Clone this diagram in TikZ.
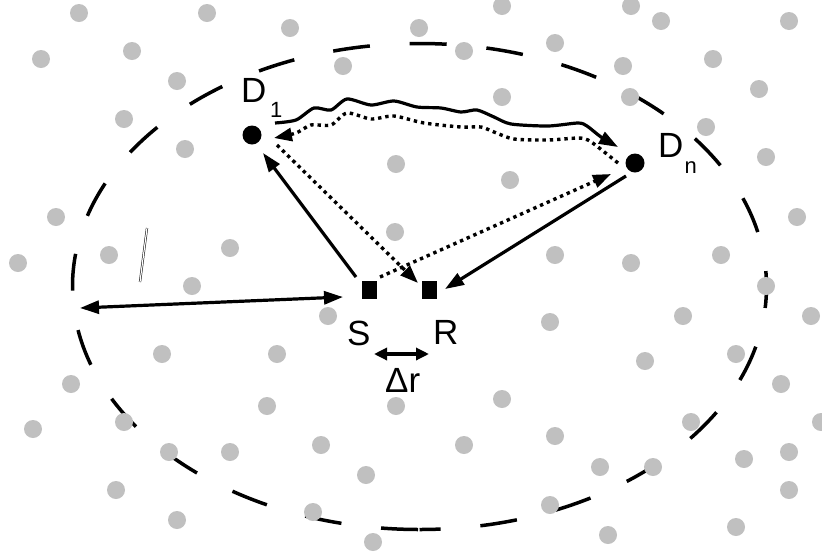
\documentclass[tikz,border=0pt]{standalone}
\usepackage{fontspec}
\setmainfont{Liberation Sans}
\usetikzlibrary{arrows.meta}
\definecolor{dotgray}{RGB}{192,192,192}
\tikzset{
  gdot/.style={circle, fill=dotgray, inner sep=0pt, minimum size=18pt},
  dnode/.style={circle, fill=black, inner sep=0pt, minimum size=19pt},
  snode/.style={rectangle, fill=black, inner sep=0pt, minimum width=15pt, minimum height=18pt},
  lbl/.style={inner sep=0pt, anchor=base west, font=\fontsize{35}{40}\selectfont},
  sublbl/.style={inner sep=0pt, anchor=base west, font=\fontsize{22}{26}\selectfont},
  ell/.style={line width=3.5pt, dash pattern=on 37pt off 39.9pt, dash phase=75.4pt},
  solidarrow/.style={line width=3.2pt, -{Triangle[length=19pt,width=13pt]}},
  twoarrow/.style={line width=3.2pt, {Triangle[length=19pt,width=13pt]}-{Triangle[length=19pt,width=13pt]}},
  smallarrow/.style={line width=3.2pt, {Triangle[length=13pt,width=12pt]}-{Triangle[length=13pt,width=12pt]}},
  dotarrow/.style={line width=3.4pt, dash pattern=on 3.4pt off 3.9pt, -{Triangle[length=18pt,width=13pt]}},
}
\begin{document}
\begin{tikzpicture}[x=1pt,y=-1pt]
\useasboundingbox (0,0) rectangle (822,558);
\fill[white] (0,0) rectangle (822,558);
% dashed ellipse, starting at its lowest point
\coordinate (ebot) at (419.5,529.5);
\draw[ell] (ebot) arc[start angle=90, end angle=450, x radius=347, y radius=243];
% gray dots
\foreach \p [count=\i] in {(79,13),(207,13),(41,59),(132,51),(177,81),(124,119),(185,149),(56,217),(18,263),(109,255),(230,248),(192,286),
(290,28),(419,28),(502,6),(464,51),(343,66),(502,97),(396,164),(510,180),(395,232),(555,43),(555,255),
(631,6),(661,21),(789,21),(623,66),(713,59),(759,89),(630,97),(706,127),(766,157),(797,217),(631,263),(721,255),(766,286),
(162,354),(277,354),(71,384),(267,406),(33,429),(124,422),(169,452),(230,452),(116,490),(177,520),
(328,316),(396,406),(502,399),(550,322),(321,445),(464,445),(366,475),(313,512),(373,542),(550,505),
(683,316),(811,316),(645,361),(736,354),(781,384),(821,422),(691,422),(555,436),(600,467),(653,467),(744,459),(789,452),(789,490),(608,535),(736,527)}
  \node[gdot] (g\i) at \p {};
% thin double stroke
\draw[double=white, line width=0.5pt, double distance=1.2pt] (140,282) -- (147,228);
% main nodes
\node[dnode] (D1) at (252,135) {};
\node[dnode] (Dn) at (635,163) {};
\node[snode] (S) at (369.5,290) {};
\node[snode] (R) at (429,290) {};
% labels
\node[lbl] (D1lab) at (241,102) {D};
\node[sublbl] (D1sub) at (270,117) {1};
\node[lbl] (Dnlab) at (658,157) {D};
\node[sublbl] (Dnsub) at (684.5,173) {n};
\node[lbl] (Slab) at (347,345) {S};
\node[lbl] (Rlab) at (433,344) {R};
\node[lbl] (drlab) at (385,392) {Δr};
% left free end
\coordinate (L) at (80,308);
% connectors
\draw[twoarrow] (L) -- ([shift={(-26.5,7)}]S.center);
\draw[solidarrow] ([shift={(-13.5,-13)}]S.center) -- ([shift={(11,18)}]D1.center);
\draw[solidarrow] ([shift={(-9,13)}]Dn.center) -- ([shift={(16,-1)}]R.center);
\draw[dotarrow] ([shift={(25,10)}]D1.center) -- ([shift={(-11,-7)}]R.center);
\draw[dotarrow] ([shift={(10.5,-13)}]S.center) -- ([shift={(-24,11)}]Dn.center);
\draw[smallarrow] ([shift={(4.5,64)}]S.center) -- ([shift={(0,64)}]R.center);
% wavy solid D1 -> Dn
\draw[solidarrow] plot[smooth, tension=0.45] coordinates {([shift={(23,-12)}]D1.center) (296,120) (314,108) (331,110) (347,99) (371,105) (394,101) (417,107) (441,108) (461,112) (477,110) (494,117) (511,124) (548,126) (578,123) (587,126) (601,137) ([shift={(-17,-16)}]Dn.center)};
% wavy dotted Dn -> D1
\draw[dotarrow] plot[smooth, tension=0.45] coordinates {([shift={(-17,0)}]Dn.center) (598,147) (588,140) (578,138) (548,140) (514,139) (494,132) (481,127) (461,127) (424,123) (394,116) (371,119) (347,113) (331,125) (311,125) (296,133) ([shift={(22,3)}]D1.center)};
\end{tikzpicture}
\end{document}
